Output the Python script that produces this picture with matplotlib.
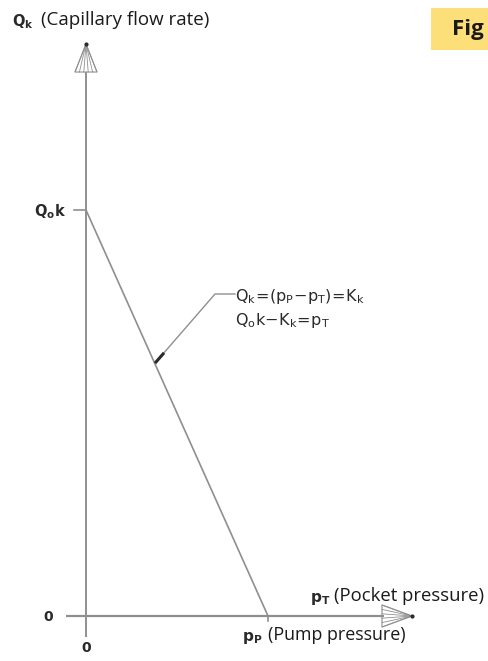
import matplotlib
matplotlib.use("Agg")
import matplotlib.pyplot as plt
from matplotlib.patches import Rectangle, Polygon
import numpy as np

# ---- data ----
pressure = [0.0, 1.0]        # p_T from 0 to p_P
flow = [1.0, 0.0]            # Q_k from Q_ok to 0
x_axis_labels = ["0", "p_P"]
y_axis_labels = ["0", "Q_ok"]

W, H = 489, 661
fig = plt.figure(figsize=(W / 100, H / 100), dpi=100)
fig.patch.set_facecolor("white")
ax = fig.add_axes([0, 0, 1, 1])
ax.set_axis_off()

# pixel layout: origin at (86, 616); p_P at x=268; Q_ok at y=210
ox, oy, px1, py1 = 86, 616, 268, 210
sx = (px1 - ox)
sy = (oy - py1)
ax.set_xlim(-ox / sx, (W - ox) / sx)
ax.set_ylim(-(H - oy) / sy, oy / sy)

def P(x, y):
    """pixel (from top-left) -> data coords (layout only)"""
    return ((x - ox) / sx, (oy - y) / sy)

gray = "#8f8f8f"
dark = "#2a2a2a"

# axes lines
ax.plot(*zip(P(86, 72), P(86, 637)), color=gray, lw=1.4, solid_capstyle="butt")
ax.plot(*zip(P(66, 616), P(384, 616)), color=gray, lw=1.6, solid_capstyle="butt")

# hatched arrowheads
def arrowhead(tip, b1, b2, n=6):
    ax.add_patch(Polygon([P(*tip), P(*b1), P(*b2)], closed=True, fill=False,
                         edgecolor=gray, lw=0.8))
    for t in np.linspace(0, 1, n):
        bx = b1[0] + (b2[0] - b1[0]) * t
        by = b1[1] + (b2[1] - b1[1]) * t
        ax.plot(*zip(P(*tip), P(bx, by)), color=gray, lw=0.6)
    ax.plot(*P(*tip), marker="o", ms=2, color=dark)

arrowhead((86, 44), (75, 72), (97, 72))
arrowhead((412, 616), (382, 605), (382, 627))

# ticks
ax.plot(*zip(P(74, 210), P(86, 210)), color=gray, lw=1.2)
ax.plot(*zip(P(268, 616), P(268, 621)), color=gray, lw=1.2)

# main data line
ax.plot(pressure, flow, color=gray, lw=1.2)

# tick labels
ax.text(*P(48, 617), "0", fontsize=10, fontweight="bold",
        family="DejaVu Sans", color=dark, ha="center", va="center")
ax.text(*P(86, 648), "0", fontsize=10, fontweight="bold",
        family="DejaVu Sans", color=dark, ha="center", va="center")
ax.text(*P(66, 212), r"$\mathbf{Q_o}$k", fontsize=10.5, fontweight="bold",
        family="DejaVu Sans", color=dark, ha="right", va="center")

# axis titles
ax.text(*P(12, 22), r"$\mathbf{Q_k}$", fontsize=10.5, color=dark, ha="left", va="center")
ax.text(*P(41, 20), "(Capillary flow rate)", fontsize=13.5, family="Open Sans",
        color="#1a1a1a", ha="left", va="center")
ax.text(*P(310, 599), r"$\mathbf{p_T}$", fontsize=11, color=dark, ha="left", va="center")
ax.text(*P(334, 596), "(Pocket pressure)", fontsize=13.3, family="Open Sans",
        color="#1a1a1a", ha="left", va="center")
ax.text(*P(242, 638), r"$\mathbf{p_P}$", fontsize=11, color=dark, ha="left", va="center")
ax.text(*P(268, 635), "(Pump pressure)", fontsize=12.9, family="Open Sans",
        color="#1a1a1a", ha="left", va="center")

# annotation leader
ax.plot(*zip(P(156, 362), P(215, 294), P(235, 294)), color=gray, lw=1.0)
ax.plot(*zip(P(156, 362), P(163, 354)), color=dark, lw=2.2)
ax.text(*P(235, 297), r"$\mathsf{Q_k\!=\!(p_P\!-\!p_T)\!=\!K_k}$", fontsize=11.5,
        color=dark, ha="left", va="center")
ax.text(*P(235, 320), r"$\mathsf{Q_o k\!-\!K_k\!=\!p_T}$", fontsize=11.5,
        color=dark, ha="left", va="center")

# Fig badge
fig.patches.append(Rectangle((431 / W, 1 - 50 / H), (W - 431) / W, 42 / H,
                             transform=fig.transFigure, facecolor="#fddf7a",
                             edgecolor="none"))
fig.text(452 / W, 1 - 30 / H, "Fig", fontsize=16, fontweight="bold",
         family="Open Sans", color="#1a1a1a", ha="left", va="center")

fig.savefig("out.png", dpi=100, facecolor="white")
